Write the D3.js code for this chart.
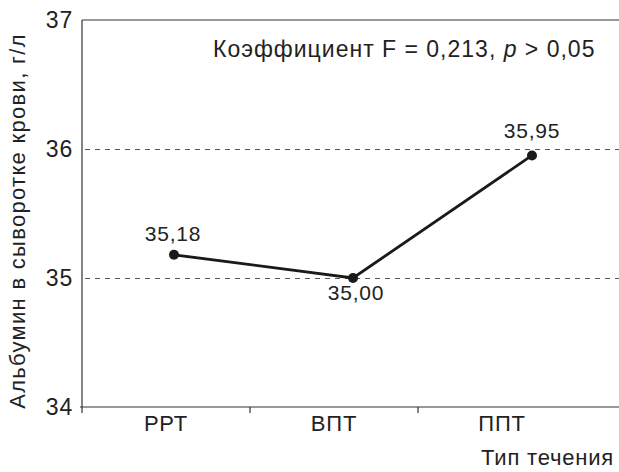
<!DOCTYPE html>
<html>
<head>
<meta charset="utf-8">
<script src="https://cdn.jsdelivr.net/npm/d3@7"></script>
<style>
  body { margin: 0; background: #fff; }
  text { font-family: "Liberation Sans", Arial, sans-serif; fill: #222; letter-spacing: 0.8px; }
</style>
</head>
<body>
<svg id="chart" width="619" height="472"></svg>
<script>
const categories = ['РРТ', 'ВПТ', 'ППТ'];
const values = [35.18, 35.00, 35.95];
const valueLabels = ['35,18', '35,00', '35,95'];
const yTicks = [34, 35, 36, 37];

const svg = d3.select('#chart');
const plotLeft = 82, plotTop = 20, plotRight = 619, plotBottom = 407;

const x = d3.scaleBand().domain(categories).range([plotLeft, plotLeft + 3 * 168]);
// points sit a bit right of the band centres in the original
const xp = d3.scalePoint().domain(categories).range([174, 532]);
const y = d3.scaleLinear().domain([34, 37]).range([plotBottom, plotTop]);

// dashed grid at 35 and 36
svg.selectAll('line.grid')
  .data([35, 36])
  .enter()
  .append('line')
  .attr('class', 'grid')
  .attr('x1', plotLeft + 3).attr('x2', plotRight)
  .attr('y1', d => Math.round(y(d)) + 0.5).attr('y2', d => Math.round(y(d)) + 0.5)
  .attr('stroke', '#555')
  .attr('stroke-width', 1.2)
  .attr('stroke-dasharray', '5,5');

// frame: left, top, bottom
svg.append('line').attr('x1', plotLeft).attr('x2', plotLeft).attr('y1', plotTop).attr('y2', plotBottom + 6)
  .attr('stroke', '#333').attr('stroke-width', 1.2);
svg.append('line').attr('x1', plotLeft).attr('x2', plotRight).attr('y1', plotTop).attr('y2', plotTop)
  .attr('stroke', '#333').attr('stroke-width', 1.2);
svg.append('line').attr('x1', plotLeft - 2).attr('x2', plotRight).attr('y1', plotBottom).attr('y2', plotBottom)
  .attr('stroke', '#333').attr('stroke-width', 1.2);

// x ticks between bands
svg.selectAll('line.xtick')
  .data(categories.slice(1))
  .enter()
  .append('line')
  .attr('x1', d => x(d)).attr('x2', d => x(d))
  .attr('y1', plotBottom).attr('y2', plotBottom + 6)
  .attr('stroke', '#333').attr('stroke-width', 1.2);

// y tick labels
svg.selectAll('text.ytick')
  .data(yTicks)
  .enter()
  .append('text')
  .attr('x', 73)
  .attr('y', d => y(d) + 8)
  .attr('text-anchor', 'end')
  .style('font-size', '23px')
  .text(d => d);

// x category labels
svg.selectAll('text.xcat')
  .data(categories)
  .enter()
  .append('text')
  .attr('x', d => x(d) + x.bandwidth() / 2)
  .attr('y', 431)
  .attr('text-anchor', 'middle')
  .style('font-size', '22px')
  .text(d => d);

// axis titles
svg.append('text')
  .attr('transform', 'translate(25,221) rotate(-90)')
  .attr('text-anchor', 'middle')
  .style('font-size', '22px')
  .style('letter-spacing', '1.3px')
  .text('Альбумин в сыворотке крови, г/л');

svg.append('text')
  .attr('x', 614).attr('y', 465)
  .attr('text-anchor', 'end')
  .style('font-size', '22px')
  .text('Тип течения');

// annotation
const note = svg.append('text')
  .attr('x', 213).attr('y', 57)
  .style('font-size', '23px')
  .style('letter-spacing', '1px');
note.append('tspan').text('Коэффициент F = 0,213, ');
note.append('tspan').style('font-style', 'italic').text('p');
note.append('tspan').text(' > 0,05');

// line + points
const data = categories.map((c, i) => ({ c, v: values[i], label: valueLabels[i] }));

svg.append('path')
  .datum(data)
  .attr('fill', 'none')
  .attr('stroke', '#1a1a1a')
  .attr('stroke-width', 2.8)
  .attr('d', d3.line().x(d => xp(d.c)).y(d => y(d.v)));

svg.selectAll('circle')
  .data(data)
  .enter()
  .append('circle')
  .attr('cx', d => xp(d.c))
  .attr('cy', d => y(d.v))
  .attr('r', 5)
  .attr('fill', '#1a1a1a');

const labelDy = [-14, 22, -17];
const labelDx = [-1, 3, 0];
svg.selectAll('text.val')
  .data(data)
  .enter()
  .append('text')
  .attr('x', (d, i) => xp(d.c) + labelDx[i])
  .attr('y', (d, i) => y(d.v) + labelDy[i])
  .attr('text-anchor', 'middle')
  .style('font-size', '21px')
  .text(d => d.label);
</script>
</body>
</html>
